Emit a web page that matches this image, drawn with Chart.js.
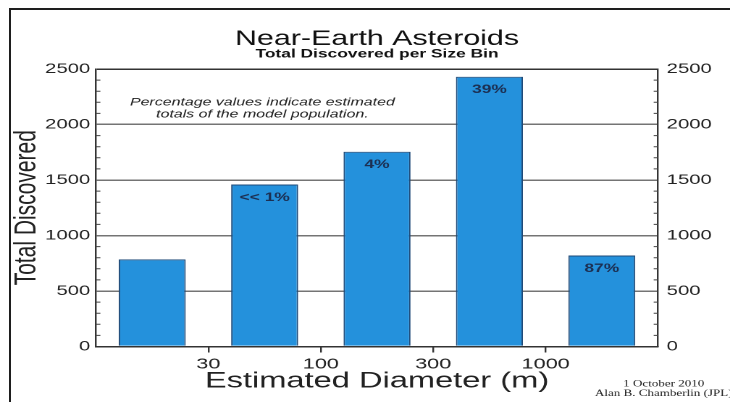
<!DOCTYPE html>
<html>
<head>
<meta charset="utf-8">
<script src="https://cdn.jsdelivr.net/npm/chart.js@4.4.0/dist/chart.umd.min.js"></script>
<style>
  html, body { margin: 0; padding: 0; background: #fff; }
  #page { position: relative; width: 730px; height: 402px; overflow: hidden; }
  #frame { position: absolute; left: 9px; top: 8px; right: -5px; bottom: -5px;
           border-left: 2px solid #1e1e1e; border-top: 2px solid #1e1e1e; }
  /* the original picture is stretched sideways, so the chart is drawn narrow and widened */
  #wrap { position: absolute; left: 0; top: 0; width: 504px; height: 402px;
          transform: scaleX(1.44841); transform-origin: 0 0; }
</style>
</head>
<body>
<div id="page">
  <div id="frame"></div>
  <div id="wrap"><canvas id="neaChart"></canvas></div>
</div>
<script>
const sizeBins = ['10-30 m', '30-100 m', '100-300 m', '300-1000 m', '> 1000 m'];
const discovered = [785, 1460, 1755, 2430, 820];
const pctLabels = ['', '<< 1%', '4%', '39%', '87%'];
const xTickLabels = ['', '30', '100', '300', '1000', ''];
const yTicks = [0, 500, 1000, 1500, 2000, 2500];
const chartTitle = 'Near-Earth Asteroids';
const chartSubtitle = 'Total Discovered per Size Bin';
const noteLines = ['Percentage values indicate estimated', 'totals of the model population.'];
const creditLines = ['1 October 2010', 'Alan B. Chamberlin (JPL)'];

const sans = '"Liberation Sans", Arial, Helvetica, sans-serif';

// titles, note, percentages, minor ticks, credit
const extras = {
    id: 'extras',
    afterDraw(chart) {
        const { ctx, chartArea: a, scales } = chart;
        const y = scales.y, x = scales.x;
        ctx.save();

        // minor ticks every 100 on both sides
        ctx.strokeStyle = '#444';
        ctx.lineWidth = 1;
        for (let v = 100; v < 2500; v += 100) {
            if (v % 500 === 0) continue;
            const py = y.getPixelForValue(v);
            ctx.beginPath();
            ctx.moveTo(a.left, py); ctx.lineTo(a.left + 3, py);
            ctx.moveTo(a.right, py); ctx.lineTo(a.right - 3, py);
            ctx.stroke();
        }

        const cx = (a.left + a.right) / 2;
        ctx.fillStyle = '#111';
        ctx.textAlign = 'center';
        ctx.textBaseline = 'alphabetic';
        ctx.font = '21px ' + sans;
        ctx.fillText(chartTitle, cx, 45);
        ctx.font = 'bold 12px ' + sans;
        ctx.fillText(chartSubtitle, cx, 57.5);

        // note
        ctx.fillStyle = '#222';
        ctx.textBaseline = 'middle';
        ctx.font = 'italic 11px ' + sans;
        const nx = x.getPixelForValue(1.48);
        const ny = y.getPixelForValue(2200);
        noteLines.forEach((t, i) => ctx.fillText(t, nx, ny + i * 12));

        // percentage labels
        ctx.fillStyle = '#1c2f52';
        ctx.font = 'bold 12px ' + sans;
        chart.getDatasetMeta(0).data.forEach((bar, i) => {
            if (pctLabels[i]) ctx.fillText(pctLabels[i], bar.x, bar.y + 13);
        });

        // credit
        ctx.fillStyle = '#222';
        ctx.font = '9px "Liberation Serif", "Times New Roman", serif';
        ctx.fillText(creditLines[0], a.right + 4, chart.height - 18);
        ctx.fillText(creditLines[1], a.right + 4, chart.height - 8.5);
        ctx.restore();
    }
};

document.addEventListener('DOMContentLoaded', () => {
    const cv = document.getElementById('neaChart');
    new Chart(cv, {
        type: 'bar',
        data: {
            labels: sizeBins,
            datasets: [{
                label: 'Total Discovered',
                data: discovered.map((v, i) => ({ x: i + 0.5, y: v })),
                yAxisID: 'y',
                backgroundColor: '#2491dc',
                borderColor: '#1f4a78',
                borderWidth: 1,
                categoryPercentage: 1,
                barPercentage: 0.596
            }]
        },
        options: {
            responsive: true,
            maintainAspectRatio: false,
            animation: false,
            devicePixelRatio: 2,
            layout: { padding: { top: 69, left: 0, right: 0, bottom: 0 } },
            plugins: {
                legend: { display: false },
                tooltip: { enabled: false }
            },
            scales: {
                x: {
                    type: 'linear',
                    min: 0,
                    max: 5,
                    offset: false,
                    afterFit(s) { s.height = 55.5; },
                    grid: {
                        drawOnChartArea: false,
                        offset: false,
                        tickLength: 6,
                        lineWidth: 1.2,
                        color: c => (c.tick && (c.tick.value === 0 || c.tick.value === 5)) ? 'rgba(0,0,0,0)' : '#333'
                    },
                    border: { display: true, color: '#333', width: 1.5 },
                    ticks: {
                        stepSize: 1,
                        autoSkip: false,
                        maxRotation: 0,
                        padding: 3,
                        color: '#222',
                        font: { size: 15, family: sans },
                        callback: v => xTickLabels[Math.round(v)] || ''
                    },
                    title: {
                        display: true,
                        text: 'Estimated Diameter (m)',
                        color: '#222',
                        font: { size: 22.5, family: sans },
                        padding: { top: 0, bottom: 7 }
                    }
                },
                y: {
                    position: 'left',
                    min: 0,
                    max: 2500,
                    afterFit(s) { s.width = 66.3; },
                    afterBuildTicks(s) { s.ticks = yTicks.map(v => ({ value: v })); },
                    grid: {
                        drawTicks: false,
                        lineWidth: 1.5,
                        color: c => (c.tick && (c.tick.value === 0 || c.tick.value === 2500)) ? '#333' : '#747474'
                    },
                    border: { display: true, color: '#333', width: 1.2 },
                    ticks: {
                        padding: 4,
                        color: '#222',
                        font: { size: 14, family: sans },
                        callback: v => String(v)
                    },
                    title: {
                        display: true,
                        text: 'Total Discovered',
                        color: '#222',
                        font: { size: 21, family: sans },
                        padding: { top: 6, bottom: 0 }
                    }
                },
                y2: {
                    position: 'right',
                    min: 0,
                    max: 2500,
                    afterFit(s) { s.width = 49.7; },
                    afterBuildTicks(s) { s.ticks = yTicks.map(v => ({ value: v })); },
                    grid: { drawOnChartArea: false, drawTicks: false },
                    border: { display: true, color: '#333', width: 1.2 },
                    ticks: {
                        padding: 6,
                        color: '#222',
                        font: { size: 14, family: sans },
                        callback: v => String(v)
                    }
                }
            }
        },
        plugins: [extras]
    });
});
</script>
</body>
</html>
